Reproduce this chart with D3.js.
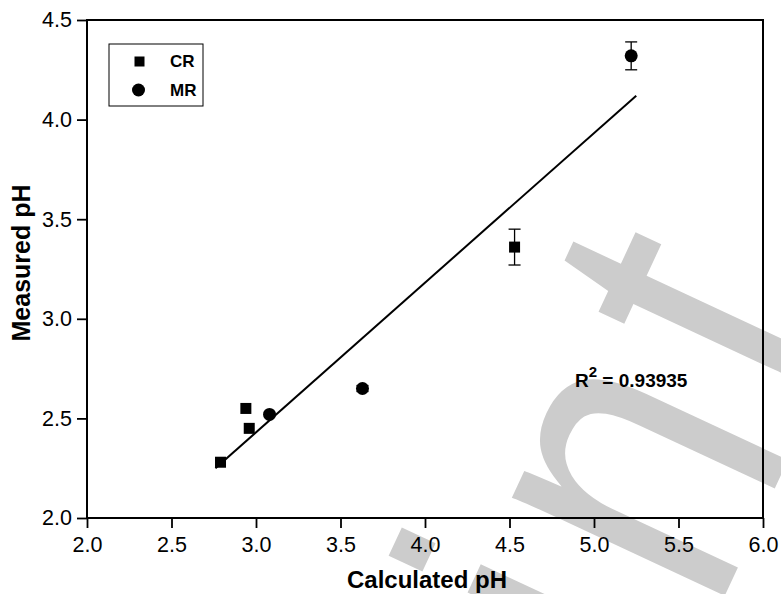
<!DOCTYPE html>
<html>
<head>
<meta charset="utf-8">
<title>Measured vs Calculated pH</title>
<style>
    body { margin: 0; background: white; }
    svg text { font-family: "Liberation Sans", Arial, sans-serif; }
</style>
</head>
<body>
<svg width="781" height="594"></svg>
<script src="https://d3js.org/d3.v7.min.js"></script>
<script>
// CR series (squares)
const crCalc = [2.79, 2.94, 2.96, 4.53];
const crMeas = [2.28, 2.55, 2.45, 3.36];
const crErr = [0, 0, 0, 0.09];

// MR series (circles)
const mrCalc = [3.08, 3.63, 5.22];
const mrMeas = [2.52, 2.65, 4.32];
const mrErr = [0, 0.015, 0.07];

// linear fit, drawn between its two end points
const fitCalc = [2.76, 5.25];
const fitMeas = [2.25, 4.12];
const rSquared = "0.93935";

const xTicks = [2.0, 2.5, 3.0, 3.5, 4.0, 4.5, 5.0, 5.5, 6.0];
const yTicks = [2.0, 2.5, 3.0, 3.5, 4.0, 4.5];

const svg = d3.select("svg");
const plotL = 87, plotR = 763, plotT = 20, plotB = 518;

const x = d3.scaleLinear().domain([2, 6]).range([plotL, plotR]);
const y = d3.scaleLinear().domain([2, 4.5]).range([plotB, plotT]);

// grey watermark, only its tail shows in the lower right
svg.append("text")
    .attr("transform", "translate(498,1082) rotate(-65) scale(1,1.25)")
    .attr("font-size", 355)
    .attr("letter-spacing", 26)
    .attr("fill", "#cccccc")
    .text("Print");

const xAxis = svg.append("g")
    .attr("transform", `translate(0,${plotB})`)
    .call(d3.axisBottom(x).tickValues(xTicks).tickFormat(d3.format(".1f")).tickSize(10).tickSizeOuter(0).tickPadding(9));

const yAxis = svg.append("g")
    .attr("transform", `translate(${plotL},0)`)
    .call(d3.axisLeft(y).tickValues(yTicks).tickFormat(d3.format(".1f")).tickSize(10).tickSizeOuter(0).tickPadding(5));

[xAxis, yAxis].forEach(a => {
    a.select(".domain").remove();
    a.selectAll("line").attr("stroke", "black").attr("stroke-width", 1.8);
    a.selectAll("text").attr("font-size", 21.5).attr("fill", "black")
        .attr("font-family", "Liberation Sans, Arial, sans-serif");
});

// plot frame
svg.append("rect")
    .attr("x", plotL).attr("y", plotT)
    .attr("width", plotR - plotL).attr("height", plotB - plotT)
    .attr("fill", "none").attr("stroke", "black").attr("stroke-width", 2);

// fit line
svg.append("line")
    .attr("x1", x(fitCalc[0])).attr("y1", y(fitMeas[0]))
    .attr("x2", x(fitCalc[1])).attr("y2", y(fitMeas[1]))
    .attr("stroke", "black").attr("stroke-width", 2);

function errorBars(xs, ys, es) {
    const g = svg.append("g").attr("stroke", "black").attr("stroke-width", 1.3);
    xs.forEach((v, i) => {
        if (!es[i]) return;
        const cx = x(v), y1 = y(ys[i] - es[i]), y2 = y(ys[i] + es[i]);
        g.append("line").attr("x1", cx).attr("x2", cx).attr("y1", y1).attr("y2", y2);
        g.append("line").attr("x1", cx - 6).attr("x2", cx + 6).attr("y1", y1).attr("y2", y1);
        g.append("line").attr("x1", cx - 6).attr("x2", cx + 6).attr("y1", y2).attr("y2", y2);
    });
}
errorBars(crCalc, crMeas, crErr);
errorBars(mrCalc, mrMeas, mrErr);

svg.append("g").selectAll("rect")
    .data(crCalc)
    .join("rect")
    .attr("x", (d, i) => x(d) - 5.5)
    .attr("y", (d, i) => y(crMeas[i]) - 5.5)
    .attr("width", 11).attr("height", 11)
    .attr("fill", "black");

svg.append("g").selectAll("circle")
    .data(mrCalc)
    .join("circle")
    .attr("cx", d => x(d))
    .attr("cy", (d, i) => y(mrMeas[i]))
    .attr("r", 6.5)
    .attr("fill", "black");

// R squared note
const r2 = svg.append("text")
    .attr("x", 575).attr("y", 387)
    .attr("font-size", 19).attr("font-weight", "bold");
r2.append("tspan").text("R");
r2.append("tspan").attr("dy", -10).attr("font-size", 15).text("2");
r2.append("tspan").attr("dy", 10).text(" = " + rSquared);

// legend
const legend = svg.append("g");
legend.append("rect")
    .attr("x", 109).attr("y", 44).attr("width", 94).attr("height", 62)
    .attr("fill", "white").attr("stroke", "black").attr("stroke-width", 1);
legend.append("rect")
    .attr("x", 134.5).attr("y", 56.5).attr("width", 10).attr("height", 10)
    .attr("fill", "black");
legend.append("circle")
    .attr("cx", 138.5).attr("cy", 90).attr("r", 6.5)
    .attr("fill", "black");
legend.append("text").attr("x", 170).attr("y", 67)
    .attr("font-size", 17).attr("font-weight", "bold").text("CR");
legend.append("text").attr("x", 170).attr("y", 96)
    .attr("font-size", 17).attr("font-weight", "bold").text("MR");

// axis titles
svg.append("text")
    .attr("x", 427).attr("y", 588)
    .attr("text-anchor", "middle")
    .attr("font-size", 24).attr("font-weight", "bold")
    .text("Calculated pH");

svg.append("text")
    .attr("transform", "translate(30,263) rotate(-90)")
    .attr("text-anchor", "middle")
    .attr("font-size", 25).attr("font-weight", "bold")
    .text("Measured pH");
</script>
</body>
</html>
